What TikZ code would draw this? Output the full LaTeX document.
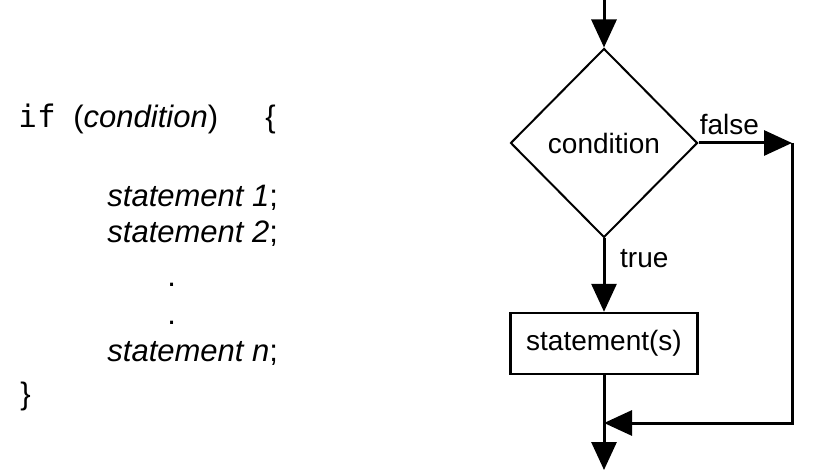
\documentclass[tikz,border=0pt]{standalone}
\usepackage{fontspec}
\setmainfont{Liberation Sans}
\setmonofont{DejaVu Sans Mono}
\usetikzlibrary{positioning,arrows.meta,shapes.geometric}

\begin{document}
\begin{tikzpicture}[
  x=0.5pt, y=-0.5pt,
  font=\fontsize{14}{16}\selectfont,
  >={Triangle[length=14pt,width=12.5pt]},
  flow/.style={->, line width=1.5pt},
  decision/.style={diamond, draw, line width=1pt, minimum width=93.5pt,
    minimum height=94.5pt, inner sep=0pt},
  process/.style={rectangle, draw, line width=1.2pt, minimum width=93.5pt,
    minimum height=30.5pt, inner sep=0pt},
  code/.style={anchor=base west, inner sep=0pt, font=\fontsize{15.5}{18}\selectfont},
]
  \useasboundingbox (0,0) rectangle (813,475);

  % Code on the left
  \node[code] (kw)   at (18,128)  {\ttfamily if};
  \node[code] (cnd)  at (73,128)  {(\textit{condition})};
  \node[code] (ob)   at (265,128) {\{};
  \node[code] (st1)  at (107,207) {\textit{statement 1};};
  \node[code] (st2)  at (107,243) {\textit{statement 2};};
  \node[code] (dot1) at (167,287) {.};
  \node[code] (dot2) at (167,325) {.};
  \node[code] (stn)  at (107,362) {\textit{statement n};};
  \node[code] (cb)   at (20,404)  {\}};

  % Flowchart
  \coordinate (start) at (604,0);
  \node[decision] (cond) at (604,143) {condition};
  \node[process] (stmts) at (604,343.5) {statement(s)};
  \coordinate (fr)   at (792,143);
  \coordinate (join) at (604,423);
  \coordinate (stop) at (604,470);

  \draw[flow] (start) -- (cond);
  \draw[flow] (cond) -- node[above, pos=0.33] {false} (fr);
  \draw[flow] (cond) -- node[right, pos=0.28, xshift=4pt] {true} (stmts);
  \draw[flow] (fr) |- (join);
  \draw[flow] (stmts) -- (stop);
\end{tikzpicture}
\end{document}
